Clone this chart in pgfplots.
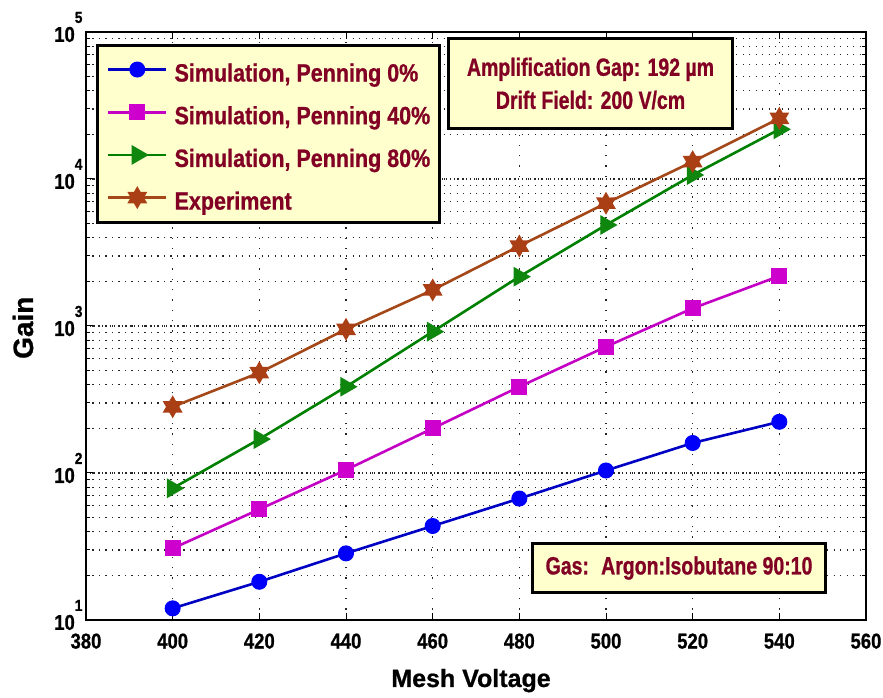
\documentclass[border=0pt]{standalone}
\usepackage{pgfplots}
\pgfplotsset{compat=1.18}
\usepackage{fontspec}
\setmainfont{Liberation Sans}[FakeStretch=0.86, FakeBold=0.8]
\newfontfamily\boxfont{Liberation Sans}[FakeStretch=0.78, FakeBold=0.8]
\newfontfamily\labfont{Liberation Sans}[FakeBold=0.8]
\usetikzlibrary{plotmarks}

\definecolor{maroon}{RGB}{130,0,36}
\definecolor{boxyellow}{RGB}{255,255,206}
\definecolor{blueline}{RGB}{0,0,195}
\definecolor{bluemark}{RGB}{0,0,250}
\definecolor{magline}{RGB}{195,0,195}
\definecolor{magmark}{RGB}{205,0,205}
\definecolor{grnline}{RGB}{0,128,0}
\definecolor{grnmark}{RGB}{15,135,15}
\definecolor{brnline}{RGB}{165,72,25}
\definecolor{brnmark}{RGB}{170,62,20}

% filled six-pointed star
\pgfdeclareplotmark{hexagram}{%
  \pgfpathmoveto{\pgfpointpolar{90}{\pgfplotmarksize}}%
  \pgfpathlineto{\pgfpointpolar{120}{0.577\pgfplotmarksize}}%
  \pgfpathlineto{\pgfpointpolar{150}{\pgfplotmarksize}}%
  \pgfpathlineto{\pgfpointpolar{180}{0.577\pgfplotmarksize}}%
  \pgfpathlineto{\pgfpointpolar{210}{\pgfplotmarksize}}%
  \pgfpathlineto{\pgfpointpolar{240}{0.577\pgfplotmarksize}}%
  \pgfpathlineto{\pgfpointpolar{270}{\pgfplotmarksize}}%
  \pgfpathlineto{\pgfpointpolar{300}{0.577\pgfplotmarksize}}%
  \pgfpathlineto{\pgfpointpolar{330}{\pgfplotmarksize}}%
  \pgfpathlineto{\pgfpointpolar{0}{0.577\pgfplotmarksize}}%
  \pgfpathlineto{\pgfpointpolar{30}{\pgfplotmarksize}}%
  \pgfpathlineto{\pgfpointpolar{60}{0.577\pgfplotmarksize}}%
  \pgfpathclose
  \pgfusepathqfillstroke
}

\newcommand\tp[1]{10\raisebox{19pt}{\fontsize{16}{16}\selectfont #1}}

\begin{document}
\begin{tikzpicture}
\begin{axis}[
  at={(0,0)}, anchor=south west,
  scale only axis, width=780pt, height=588pt,
  xmin=380, xmax=560,
  ymode=log, ymin=10, ymax=1e5,
  xtick={380,400,...,560},
  ytick={10,100,1000,10000,100000},
  yticklabels={\tp{1},\tp{2},\tp{3},\tp{4},\tp{5}},
  /pgf/number format/assume math mode=true,
  /pgf/number format/1000 sep={},
  tick label style={font=\fontsize{21.5}{24}\selectfont\bfseries, black},
  xticklabel style={yshift=-10pt},
  yticklabel style={yshift=5pt},
  axis line style={line width=1.4pt, black},
  major tick length=7pt, minor tick length=4pt,
  tick style={line width=1pt, black},
  grid=both,
  major x grid style={line width=1.3pt, black!85, dash pattern=on 1.3pt off 9pt},
  major y grid style={line width=1.3pt, black!85, dash pattern=on 1.3pt off 2.7pt},
  minor y grid style={line width=1.3pt, black!85, dash pattern=on 1.3pt off 5.2pt},
  xlabel={Mesh Voltage}, ylabel={Gain},
  xlabel style={at={(axis description cs:0.4936,-0.1139)}, anchor=base,
    font=\labfont\fontsize{25}{30}\selectfont\bfseries},
  ylabel style={at={(axis description cs:-0.06795,0.497)}, anchor=base, rotate=0,
    font=\labfont\fontsize{28}{32}\selectfont\bfseries},
  legend cell align=left,
  legend image code/.code={\draw[mark repeat=2,mark phase=2,#1]
    plot coordinates {(0pt,0pt) (29pt,0pt) (58pt,0pt)};},
  legend style={at={(axis description cs:0.01346,0.9804)}, anchor=north west,
    draw=black, line width=3pt, fill=boxyellow,
    inner xsep=9pt, inner ysep=3.15pt, column sep=7pt, row sep=0pt,
    font=\fontsize{25}{30}\selectfont\bfseries, text=maroon,
    nodes={inner sep=0pt, text height=33.35pt, text depth=9.35pt}},
]
\addplot[blueline, line width=2.6pt, mark=*, mark size=7.5pt,
  mark options={fill=bluemark, draw=bluemark, line width=1pt}]
  coordinates {(400,12.0) (420,18.2) (440,28.4) (460,43.6) (480,67) (500,104) (520,160) (540,223)};
\addlegendentry{Simulation, Penning 0\%}
\addplot[magline, line width=2.6pt, mark=square*, mark size=7.5pt,
  mark options={fill=magmark, draw=magmark, line width=1pt}]
  coordinates {(400,30.7) (420,56.6) (440,105) (460,201) (480,386) (500,723) (520,1319) (540,2188)};
\addlegendentry{Simulation, Penning 40\%}
\addplot[grnline, line width=2.6pt, mark=triangle*, mark size=10.5pt,
  mark options={rotate=-90, fill=grnmark, draw=grnmark, line width=1pt}]
  coordinates {(400,78.7) (420,170) (440,386) (460,915) (480,2165) (500,4865) (520,10640) (540,21780)};
\addlegendentry{Simulation, Penning 80\%}
\addplot[brnline, line width=2.6pt, mark=hexagram, mark size=10pt,
  mark options={fill=brnmark, draw=brnmark, line width=1.5pt}]
  coordinates {(400,282) (420,481) (440,950) (460,1758) (480,3500) (500,6840) (520,13120) (540,25880)};
\addlegendentry{Experiment}

\node[draw=black, line width=3pt, fill=boxyellow, minimum width=284pt, minimum height=90pt,
  align=center, text=maroon, inner sep=0pt,
  font=\boxfont\fontsize{25}{33}\selectfont\bfseries]
  at (axis description cs:0.6468,0.9124)
  {Amplification Gap: 192 µm\\Drift Field: 200 V/cm};
\node[draw=black, line width=3pt, fill=boxyellow, minimum width=293pt, minimum height=49pt,
  text=maroon, inner sep=0pt, font=\boxfont\fontsize{25}{30}\selectfont\bfseries]
  at (axis description cs:0.7603,0.0884)
  {Gas:\hspace{5pt} Argon:Isobutane 90:10};
\end{axis}
\pgfresetboundingbox
\path (-86pt,-78pt) rectangle (797pt,620pt);
\end{tikzpicture}
\end{document}
